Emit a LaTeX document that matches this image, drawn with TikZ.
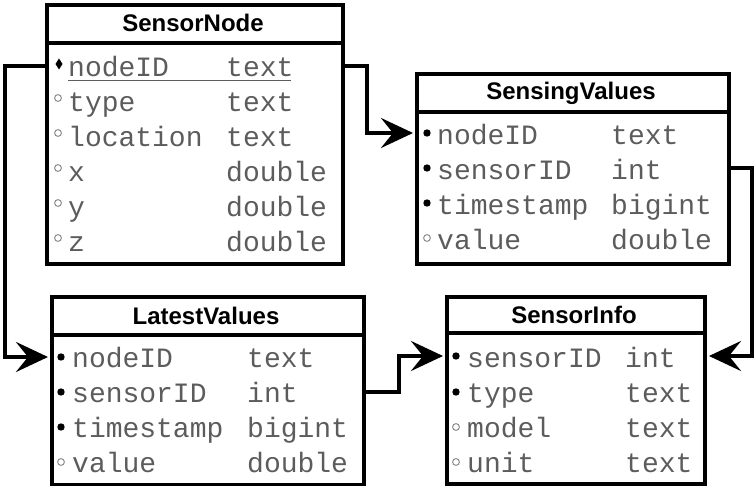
\documentclass[tikz,border=0pt]{standalone}
\usepackage{fontspec}
\setmainfont{Liberation Sans}
\newfontfamily\monof{Liberation Mono}
\usetikzlibrary{arrows.meta}
\definecolor{txtgray}{gray}{0.36}
\definecolor{ringgray}{gray}{0.55}
\tikzset{
  tbox/.style={draw=black, line width=4pt, rectangle, inner sep=0pt, anchor=north west},
  tline/.style={draw=black, line width=4pt},
  hdr/.style={anchor=base, inner sep=0pt, font=\bfseries\fontsize{24}{24}\selectfont},
  fld/.style={anchor=base west, inner sep=0pt, text=txtgray, font=\monof\fontsize{28}{28}\selectfont},
  conn/.style={draw=black, line width=4pt, line join=miter, -{Stealth[length=32pt, width=30pt, inset=12pt]}, shorten >=2pt},
  pkdot/.style={fill=black},
  ring/.style={draw=ringgray, line width=1pt},
}
\newcommand{\frow}[6]{%
  \node[fld] (#1) at (#2,#4) {#5};
  \node[fld] (#1t) at (#3,#4) {#6};}
\begin{document}
\begin{tikzpicture}[x=1pt, y=-1pt]
\useasboundingbox (0,0) rectangle (756,486);

% ---------- SensorNode ----------
\node[tbox, minimum width=296pt, minimum height=259pt] (sn) at (45,3) {};
\draw[tline] (45,43) -- (341,43);
\node[hdr] (snh) at (193,32) {SensorNode};
\frow{sn1}{68}{226}{77}{nodeID}{text}
\frow{sn2}{68}{226}{112}{type}{text}
\frow{sn3}{68}{226}{147}{location}{text}
\frow{sn4}{68}{226}{182}{x}{double}
\frow{sn5}{68}{226}{217}{y}{double}
\frow{sn6}{68}{226}{252}{z}{double}
\draw[txtgray, line width=1.5pt] (68,80.5) -- (291,80.5);
\coordinate (snk) at (59,66);
\fill (59,58.5) -- (62.5,64) -- (59,69.5) -- (55.5,64) -- cycle;
\draw[ring] (58,98) circle (3.4pt);
\draw[ring] (58,133) circle (3.4pt);
\draw[ring] (58,168) circle (3.4pt);
\draw[ring] (58,203) circle (3.4pt);
\draw[ring] (58,238) circle (3.4pt);

% ---------- SensingValues ----------
\node[tbox, minimum width=312pt, minimum height=190pt] (sv) at (415,72) {};
\draw[tline] (415,112) -- (727,112);
\node[hdr] (svh) at (571,100) {SensingValues};
\frow{sv1}{437}{611}{145}{nodeID}{text}
\frow{sv2}{437}{611}{180}{sensorID}{int}
\frow{sv3}{437}{611}{215}{timestamp}{bigint}
\frow{sv4}{437}{611}{250}{value}{double}
\coordinate (svk1) at (427,133);
\coordinate (svk2) at (427,168);
\fill[pkdot] (svk1) circle (3.7pt);
\fill[pkdot] (svk2) circle (3.7pt);
\fill[pkdot] (427,203) circle (3.7pt);
\draw[ring] (427,238) circle (3.4pt);

% ---------- LatestValues ----------
\node[tbox, minimum width=312pt, minimum height=188pt] (lv) at (50,295) {};
\draw[tline] (50,335) -- (362,335);
\node[hdr] (lvh) at (206,325) {LatestValues};
\frow{lv1}{72}{247}{368}{nodeID}{text}
\frow{lv2}{72}{247}{403}{sensorID}{int}
\frow{lv3}{72}{247}{438}{timestamp}{bigint}
\frow{lv4}{72}{247}{473}{value}{double}
\coordinate (lvk1) at (61,357);
\coordinate (lvk2) at (61,392);
\fill[pkdot] (lvk1) circle (3.7pt);
\fill[pkdot] (lvk2) circle (3.7pt);
\fill[pkdot] (61,427) circle (3.7pt);
\draw[ring] (61,462) circle (3.4pt);

% ---------- SensorInfo ----------
\node[tbox, minimum width=258pt, minimum height=187pt] (si) at (445,295) {};
\draw[tline] (445,333) -- (703,333);
\node[hdr] (sih) at (574,324) {SensorInfo};
\frow{si1}{467}{625}{368}{sensorID}{int}
\frow{si2}{467}{625}{403}{type}{text}
\frow{si3}{467}{625}{438}{model}{text}
\frow{si4}{467}{625}{473}{unit}{text}
\coordinate (sik1) at (456,356);
\fill[pkdot] (sik1) circle (3.7pt);
\fill[pkdot] (456,392) circle (3.7pt);
\draw[ring] (456,427) circle (3.4pt);
\draw[ring] (456,462) circle (3.4pt);

% ---------- connectors ----------
\draw[conn] (snk -| sn.west) -- ++(-40,0) |- (lvk1 -| lv.west);
\draw[conn] (snk -| sn.east) -- ++(22,0) |- (svk1 -| sv.west);
\draw[conn] (svk2 -| sv.east) -- ++(21,0) |- (sik1 -| si.east);
\draw[conn] (lvk2 -| lv.east) -- ++(33,0) |- (sik1 -| si.west);
\end{tikzpicture}
\end{document}
